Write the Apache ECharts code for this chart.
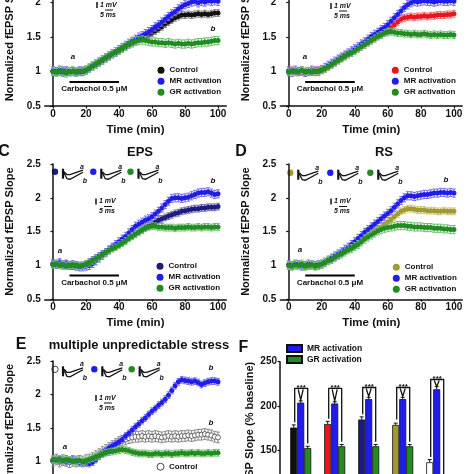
<!DOCTYPE html>
<html><head><meta charset="utf-8">
<script src="https://cdn.jsdelivr.net/npm/echarts@6/dist/echarts.min.js"></script>
<style>html,body{margin:0;padding:0;background:#fff}#c{width:474px;height:474px}</style>
</head><body><div id="c"></div>
<script>
// ---------- DATA ----------
const time = [0,2,4,6,8,10,12,14,16,18,20,22,24,26,28,30,32,34,36,38,40,42,44,46,48,50,52,54,56,58,60,62,64,66,68,70,72,74,76,78,80,82,84,86,88,90,92,94,96,98,100];
const xTicks = [0,20,40,60,80,100];
const seriesNames = ['Control','MR activation','GR activation'];

const A_ctl = [1.00,1.01,0.99,1.02,1.00,0.99,1.01,1.00,0.99,1.00, 1.02,1.05,1.08,1.10,1.13,1.16,1.19,1.22,1.25,1.27, 1.30,1.33,1.36,1.39,1.41,1.44,1.47,1.49,1.51,1.53, 1.56,1.59,1.62,1.65,1.69,1.72,1.75,1.78,1.80,1.82, 1.82,1.83,1.82,1.83,1.84,1.83,1.84,1.83,1.84,1.85,1.85];
const A_mr  = [1.01,1.00,1.02,0.99,1.01,1.00,1.00,0.99,1.01,1.00, 1.02,1.05,1.08,1.11,1.14,1.17,1.20,1.23,1.26,1.29, 1.32,1.35,1.38,1.41,1.44,1.47,1.50,1.52,1.55,1.58, 1.61,1.65,1.68,1.72,1.76,1.80,1.84,1.87,1.91,1.94, 1.97,1.99,2.01,2.02,2.00,2.02,2.01,2.03,2.02,2.03,2.02];
const A_gr  = [1.00,0.99,1.01,1.00,0.98,1.00,1.01,0.99,1.00,1.01, 1.02,1.05,1.08,1.11,1.14,1.17,1.20,1.23,1.26,1.29, 1.31,1.34,1.37,1.40,1.42,1.44,1.45,1.46,1.45,1.44, 1.43,1.43,1.42,1.42,1.41,1.42,1.41,1.40,1.41,1.40, 1.40,1.41,1.40,1.41,1.42,1.42,1.43,1.43,1.44,1.45,1.45];

const B_ctl = [1.00,1.02,0.99,1.01,1.00,0.98,1.01,1.00,1.02,0.99, 1.02,1.04,1.07,1.10,1.13,1.16,1.19,1.22,1.25,1.27, 1.30,1.33,1.36,1.39,1.42,1.45,1.48,1.51,1.54,1.57, 1.60,1.64,1.68,1.72,1.76,1.78,1.79,1.80,1.79,1.80, 1.80,1.81,1.80,1.81,1.81,1.82,1.82,1.82,1.83,1.83,1.84];
const B_mr  = [1.01,0.99,1.02,1.00,1.01,0.99,1.00,1.02,1.00,1.01, 1.03,1.06,1.09,1.12,1.15,1.18,1.21,1.24,1.27,1.30, 1.33,1.36,1.40,1.43,1.47,1.51,1.54,1.57,1.61,1.64, 1.68,1.73,1.78,1.83,1.88,1.93,1.97,2.00,2.02,2.01, 2.02,2.03,2.02,2.02,2.01,2.02,2.03,2.02,2.02,2.03,2.02];
const B_gr  = [0.99,1.01,1.00,0.99,1.02,1.00,1.01,0.99,1.00,1.01, 1.02,1.04,1.07,1.10,1.13,1.16,1.19,1.22,1.25,1.27, 1.30,1.33,1.36,1.39,1.42,1.45,1.48,1.51,1.53,1.56, 1.57,1.58,1.57,1.56,1.56,1.55,1.55,1.54,1.55,1.54, 1.54,1.55,1.54,1.53,1.54,1.53,1.54,1.53,1.53,1.54,1.53];

const C_ctl = [1.02,1.01,1.03,1.00,1.02,1.01,0.99,1.01,1.00,1.00, 1.02,1.05,1.08,1.11,1.14,1.17,1.20,1.23,1.26,1.29, 1.32,1.35,1.38,1.41,1.44,1.47,1.50,1.53,1.56,1.59, 1.61,1.64,1.67,1.69,1.71,1.73,1.75,1.77,1.78,1.80, 1.81,1.82,1.83,1.84,1.84,1.85,1.85,1.86,1.86,1.86,1.87];
const C_mr  = [1.03,1.02,1.04,1.01,1.02,1.00,1.01,0.99,0.98,0.98, 0.99,1.00,1.03,1.07,1.11,1.15,1.19,1.23,1.27,1.31, 1.35,1.39,1.43,1.48,1.53,1.58,1.61,1.64,1.67,1.69, 1.72,1.76,1.80,1.85,1.90,1.95,1.99,2.00,2.00,1.99, 2.00,2.01,2.03,2.05,2.07,2.08,2.08,2.09,2.07,2.05,2.06];
const C_gr  = [1.01,1.02,1.00,1.01,0.99,1.00,1.01,1.00,0.99,1.00, 1.02,1.04,1.07,1.10,1.13,1.16,1.19,1.22,1.25,1.27, 1.30,1.33,1.36,1.40,1.43,1.46,1.49,1.52,1.55,1.57, 1.58,1.58,1.57,1.57,1.56,1.56,1.56,1.55,1.56,1.56, 1.56,1.57,1.56,1.56,1.57,1.56,1.57,1.57,1.56,1.57,1.57];

const D_ctl = [1.00,1.01,0.99,1.02,1.00,1.01,0.99,1.00,1.01,1.00, 1.02,1.04,1.07,1.09,1.12,1.15,1.18,1.21,1.24,1.26, 1.29,1.32,1.36,1.40,1.44,1.48,1.51,1.54,1.57,1.61, 1.64,1.68,1.72,1.76,1.80,1.82,1.84,1.84,1.83,1.82, 1.82,1.82,1.81,1.81,1.81,1.80,1.80,1.81,1.80,1.80,1.80];
const D_mr  = [1.01,1.00,1.02,1.01,0.99,1.00,1.02,1.01,1.00,1.01, 1.02,1.05,1.08,1.11,1.14,1.17,1.20,1.24,1.27,1.31, 1.35,1.40,1.44,1.49,1.53,1.57,1.61,1.65,1.69,1.73, 1.77,1.81,1.86,1.91,1.96,2.00,2.03,2.03,2.02,2.03, 2.04,2.05,2.05,2.06,2.07,2.07,2.08,2.08,2.07,2.08,2.07];
const D_gr  = [1.00,0.99,1.01,1.00,1.02,0.99,1.00,1.01,0.99,1.00, 1.02,1.04,1.07,1.09,1.12,1.15,1.17,1.20,1.23,1.25, 1.28,1.31,1.35,1.39,1.42,1.45,1.48,1.51,1.53,1.55, 1.56,1.57,1.58,1.59,1.59,1.59,1.58,1.58,1.57,1.57, 1.57,1.56,1.56,1.56,1.55,1.55,1.55,1.54,1.54,1.53,1.53];

const E_ctl = [1.01,1.03,1.00,1.02,1.01,0.99,1.01,1.00,1.01,1.00, 1.02,1.03,1.05,1.08,1.11,1.14,1.17,1.20,1.23,1.26, 1.29,1.31,1.33,1.35,1.36,1.37,1.37,1.38,1.37,1.38, 1.37,1.38,1.37,1.36,1.37,1.38,1.37,1.38,1.37,1.38, 1.38,1.39,1.38,1.39,1.40,1.40,1.41,1.40,1.39,1.37,1.36];
const E_mr  = [1.02,1.03,1.01,1.02,1.00,1.01,1.02,1.00,0.99,0.98, 0.98,0.97,0.99,1.03,1.08,1.12,1.16,1.20,1.23,1.26, 1.29,1.33,1.38,1.42,1.47,1.52,1.56,1.61,1.65,1.70, 1.75,1.79,1.84,1.88,1.93,1.99,2.06,2.13,2.19,2.22, 2.21,2.20,2.19,2.20,2.18,2.15,2.17,2.19,2.20,2.20,2.19];
const E_gr  = [1.03,1.02,1.04,1.01,1.03,1.02,1.00,1.01,1.02,1.00, 1.01,1.03,1.05,1.07,1.09,1.11,1.13,1.14,1.15,1.16, 1.17,1.18,1.17,1.16,1.14,1.13,1.12,1.12,1.12,1.11, 1.11,1.12,1.12,1.11,1.12,1.12,1.11,1.12,1.12,1.13, 1.12,1.12,1.13,1.12,1.13,1.12,1.12,1.13,1.12,1.13,1.13];

// SEM estimates per series [control, MR, GR]
const semA = [0.05,0.06,0.06], semB = [0.05,0.06,0.05], semC = [0.05,0.06,0.05], semD = [0.05,0.06,0.06], semE = [0.08,0.05,0.05];

// carbachol application window (min) and bar level
const carbachol = [10, 40];
const carbacholLevel = 0.85;

// panel F bars (% baseline)
const fCats = ['Naive','Control','EPS','RS','MUS'];
const fCtl = [176,180,185,179,137];
const fMR  = [204,203,208,208,219];
const fGR  = [153,155,155,155,112];
const fCtlErr = [3,3,3,2,3];
const fMRErr  = [2,2,2,2,3];
const fGRErr  = [2,2,2,2,2];
const fSig = [220,220,221,221,230];

// ---------- STYLE ----------
const FONT = '"Liberation Sans", Arial, sans-serif';
const colCtl = {A:'#111111', B:'#e8141e', C:'#1c1c7e', D:'#a09a30', E:'#444444'};
const errCtl = {A:'#8a8a8a', B:'#f27070', C:'#6a6aa8', D:'#cbc578', E:'#8a8a8a'};
const colMR = '#1e1ee8', errMR = '#7a6ae6';
const colGR = '#228b22', errGR = '#6cc06c';

const grids = [
  {left:44.75, width:181.5, top:-31.7, height:137.7},
  {left:280.4, width:181.8, top:-31.7, height:137.7},
  {left:44.75, width:181.5, top:164, height:135.3},
  {left:280.4, width:181.8, top:164, height:135.3},
  {left:44.75, width:181.5, top:361, height:134},
  {left:283.7, width:170, top:361.7, height:133.5}
].map(g=>Object.assign({outerBoundsMode:'none', containLabel:false}, g));

const lblFont = {fontFamily:FONT, fontWeight:'bold', fontSize:10, color:'#111'};
function timeX(gi){
  return {type:'value', gridIndex:gi, min:-5, max:105,
    axisLine:{lineStyle:{color:'#111', width:1.5}},
    axisTick:{customValues:xTicks, length:2.5, lineStyle:{color:'#111', width:1.2}},
    axisLabel:Object.assign({customValues:xTicks, margin:3}, lblFont),
    splitLine:{show:false},
    name:'Time (min)', nameLocation:'middle', nameGap:18,
    nameTextStyle:{fontFamily:FONT, fontWeight:'bold', fontSize:11.5, color:'#111'}};
}
function normY(gi){
  return {type:'value', gridIndex:gi, min:0.5, max:2.5, interval:0.5,
    axisLine:{show:true, lineStyle:{color:'#111', width:1.5}},
    axisTick:{show:true, length:2.5, lineStyle:{color:'#111', width:1.2}},
    axisLabel:Object.assign({margin:4}, lblFont),
    splitLine:{show:false},
    name:'Normalized fEPSP Slope', nameLocation:'middle', nameGap:29,
    nameTextStyle:{fontFamily:FONT, fontWeight:'bold', fontSize:11, color:'#111'}};
}

function dotSeries(name, vals, sem, color, errColor, gi, hollow){
  return {
    type:'custom', name:name, coordinateSystem:'cartesian2d', xAxisIndex:gi, yAxisIndex:gi,
    itemStyle:{color: hollow ? '#ffffff' : color, borderColor: color},
    encode:{x:0, y:1},
    data: time.map((t,i)=>[t, vals[i], sem]),
    renderItem: function(params, api){
      const x = api.value(0), y = api.value(1), e = api.value(2);
      const p = api.coord([x,y]), hi = api.coord([x,y+e]), lo = api.coord([x,y-e]);
      const ls = {stroke:errColor, lineWidth:1};
      return {type:'group', children:[
        {type:'line', shape:{x1:p[0],y1:hi[1],x2:p[0],y2:lo[1]}, style:ls},
        {type:'line', shape:{x1:p[0]-1.8,y1:hi[1],x2:p[0]+1.8,y2:hi[1]}, style:ls},
        {type:'line', shape:{x1:p[0]-1.8,y1:lo[1],x2:p[0]+1.8,y2:lo[1]}, style:ls},
        {type:'circle', shape:{cx:p[0],cy:p[1],r:2.5},
          style: hollow ? {fill:'#fff', stroke:color, lineWidth:0.8} : {fill:color}}
      ]};
    }
  };
}
function carbSeries(gi){
  return {type:'line', xAxisIndex:gi, yAxisIndex:gi, silent:true, showSymbol:true, symbolSize:0,
    lineStyle:{color:'#000', width:2}, itemStyle:{color:'#000'},
    data:[[carbachol[0],carbacholLevel],
      {value:[(carbachol[0]+carbachol[1])/2, carbacholLevel],
       label:{show:true, position:'bottom', distance:3, formatter:'Carbachol 0.5 \u03bcM',
         fontFamily:FONT, fontWeight:'bold', fontSize:8, color:'#111'}},
      [carbachol[1],carbacholLevel]]};
}

const panels = [
  {k:'A', gi:0, d:[A_ctl,A_mr,A_gr], sem:semA},
  {k:'B', gi:1, d:[B_ctl,B_mr,B_gr], sem:semB},
  {k:'C', gi:2, d:[C_ctl,C_mr,C_gr], sem:semC},
  {k:'D', gi:3, d:[D_ctl,D_mr,D_gr], sem:semD},
  {k:'E', gi:4, d:[E_ctl,E_mr,E_gr], sem:semE}
];

const series = [];
panels.forEach(p=>{
  series.push(dotSeries('Control|'+p.k, p.d[0], p.sem[0], colCtl[p.k], errCtl[p.k], p.gi, p.k==='E'));
  series.push(dotSeries('MR activation|'+p.k, p.d[1], p.sem[1], colMR, errMR, p.gi, false));
  series.push(dotSeries('GR activation|'+p.k, p.d[2], p.sem[2], colGR, errGR, p.gi, false));
  if (p.k !== 'E') series.push(carbSeries(p.gi));
});

// Panel F bars
const barCols = ['#111111','#e8141e','#1c1c7e','#a09a30','#ffffff'];
series.push({type:'bar', name:'Control|F', xAxisIndex:5, yAxisIndex:5, barWidth:7, barGap:'0%',
  data: fCtl.map((v,i)=>({value:v, itemStyle:{color:barCols[i]}})),
  itemStyle:{borderColor:'#111', borderWidth:0.8}});
series.push({type:'bar', name:'MR activation|F', xAxisIndex:5, yAxisIndex:5, barWidth:7, barGap:'0%',
  data:fMR, itemStyle:{color:colMR, borderColor:'#111', borderWidth:0.8}});
series.push({type:'bar', name:'GR activation|F', xAxisIndex:5, yAxisIndex:5, barWidth:7, barGap:'0%',
  data:fGR, itemStyle:{color:colGR, borderColor:'#111', borderWidth:0.8}});
function barErr(vals, errs, off){
  return {type:'custom', xAxisIndex:5, yAxisIndex:5, silent:true, z:5,
    data: vals.map((v,i)=>[i, v, errs[i]]), encode:{x:0,y:1},
    renderItem:function(params, api){
      const i=api.value(0), v=api.value(1), e=api.value(2);
      const p=api.coord([i,v]), hi=api.coord([i,v+e]);
      const x=p[0]+off;
      const st={stroke:'#111', lineWidth:1};
      return {type:'group', children:[
        {type:'line', shape:{x1:x,y1:p[1],x2:x,y2:hi[1]}, style:st},
        {type:'line', shape:{x1:x-2,y1:hi[1],x2:x+2,y2:hi[1]}, style:st}]};
    }};
}
series.push(barErr(fCtl, fCtlErr, -7), barErr(fMR, fMRErr, 0), barErr(fGR, fGRErr, 7));
series.push({type:'custom', xAxisIndex:5, yAxisIndex:5, silent:true, z:6,
  data: fCtl.map((v,i)=>[i, fSig[i], v, fMR[i], fGR[i]]), encode:{x:0,y:1},
  renderItem:function(params, api){
    const i=api.value(0), top=api.coord([i, api.value(1)]);
    const c=api.coord([i, api.value(2)+6]), m=api.coord([i, api.value(3)+3]), g=api.coord([i, api.value(4)+5]);
    const xc=top[0]-6, xm=top[0], xg=top[0]+7;
    const st={stroke:'#111', lineWidth:1.3};
    return {type:'group', children:[
      {type:'polyline', shape:{points:[[xc,c[1]],[xc,top[1]],[xg,top[1]],[xg,g[1]]]}, style:Object.assign({fill:null},st)},
      {type:'polyline', shape:{points:[[xm-2.5,top[1]+1],[xm,m[1]],[xm+2.5,top[1]+1]]}, style:Object.assign({fill:null},st)},
      {type:'text', x:xm+0.5, y:top[1]+3, style:{text:'***', textAlign:'center', textVerticalAlign:'bottom',
        font:'bold 8px '+FONT, fill:'#111'}}
    ]};
  }});

// ---------- LEGENDS ----------
function legend(k, left, top, names){
  return {left:left, top:top, orient:'vertical', selectedMode:false, icon:'circle',
    itemWidth:7, itemHeight:7, itemGap:0.5, padding:0,
    formatter:n=>n.split('|')[0],
    textStyle:{fontFamily:FONT, fontWeight:'bold', fontSize:8, color:'#111', lineHeight:10.5},
    data: (names||seriesNames).map(n=> (k==='E' && n==='Control') ?
      {name:n+'|'+k, itemStyle:{color:'#fff', borderColor:'#444', borderWidth:1}} : n+'|'+k)};
}
const legends = [legend('A',157.5,65), legend('B',391.8,65), legend('C',156.5,261), legend('D',392.8,262),
  legend('E',156.5,461.5,['Control']),
  {left:286, top:343, orient:'vertical', selectedMode:false, icon:'rect', itemWidth:15, itemHeight:7, itemGap:0, padding:0,
   formatter:n=>n.split('|')[0],
   textStyle:{fontFamily:FONT, fontWeight:'bold', fontSize:8.5, color:'#111', lineHeight:11},
   data:['MR activation|F','GR activation|F']}];

// ---------- ANNOTATIONS ----------
const G = [];
function txt(x,y,t,font,align){ G.push({type:'text', x:x, y:y, silent:true,
  style:{text:t, font:font, fill:'#111', textAlign:align||'center', textVerticalAlign:'middle'}}); }
function ln(pts,w){ G.push({type:'polyline', silent:true, shape:{points:pts}, style:{stroke:'#111', lineWidth:w||1.2, fill:null}}); }
const letterFont = 'bold 16px '+FONT, titleFont='bold 13px '+FONT, abFont='italic bold 8px '+FONT, smallItal='italic bold 7px '+FONT;
txt(4,152,'C',letterFont); txt(241,152,'D',letterFont); txt(21,345,'E',letterFont); txt(243.5,348,'F',letterFont);
txt(140,152,'EPS',titleFont); txt(384,152,'RS',titleFont); txt(139,345,'multiple unpredictable stress',titleFont);
// a / b markers
[[73,57,'a'],[213,29,'b'],[305,57,'a'],[60,251,'a'],[213,181,'b'],[300,250,'a'],[446,180,'b'],[65,447,'a'],[211,368,'b'],[211,423,'b']]
  .forEach(a=>txt(a[0],a[1],a[2],abFont));
// scale bars
function scaleBar(x,y){
  ln([[x+1,y-3],[x+1,y+3]],1.5);
  txt(x+4,y,'1 mV',smallItal,'left');
  ln([[x+9,y+5],[x+17,y+5]],1);
  txt(x+4,y+10,'5 ms',smallItal,'left');
}
scaleBar(96,5); scaleBar(330,6); scaleBar(95,201.5); scaleBar(330,201.5); scaleBar(95,398);
// inset traces
function trace(x,y,col,hollow){
  G.push({type:'circle', silent:true, shape:{cx:x,cy:y,r:3.2}, style: hollow?{fill:'#fff',stroke:'#444',lineWidth:1}:{fill:col}});
  ln([[x+8,y-3],[x+8,y+7]],2.2);
  ln([[x+9,y],[x+12,y+3],[x+15,y+3],[x+28,y-1.5]],1.3);
  ln([[x+9,y+1],[x+12,y+7],[x+15,y+7.5],[x+28,y+0.5]],1.3);
  txt(x+27,y-5,'a',smallItal); txt(x+30,y+9,'b',smallItal);
}
trace(55,171.7,colCtl.C); trace(93.3,171.7,colMR); trace(130.5,171.7,colGR);
trace(290.3,172.7,colCtl.D); trace(330.3,172.7,colMR); trace(370.3,172.7,colGR);
trace(55,369.3,null,true); trace(94.3,369.3,colMR); trace(131.7,369.3,colGR);

// ---------- OPTION ----------
const xAxes = [0,1,2,3,4].map(timeX);
xAxes.push({type:'category', gridIndex:5, data:fCats, axisLine:{lineStyle:{color:'#111',width:1.5}}, axisTick:{show:false},
  axisLabel:lblFont});
const yAxes = [0,1,2,3,4].map(normY);
yAxes.push({type:'value', gridIndex:5, min:100, max:250, interval:50, offset:3.7,
  axisLine:{show:true, lineStyle:{color:'#111', width:1.5}},
  axisTick:{show:true, length:2.5, lineStyle:{color:'#111', width:1.2}},
  axisLabel:Object.assign({margin:3}, lblFont), splitLine:{show:false},
  name:'fEPSP Slope (% baseline)', nameLocation:'middle', nameGap:25,
  nameTextStyle:{fontFamily:FONT, fontWeight:'bold', fontSize:11, color:'#111'}});

const chart = echarts.init(document.getElementById('c'), null, {renderer:'canvas'});
chart.setOption({
  animation:false, backgroundColor:'#fff',
  grid:grids, xAxis:xAxes, yAxis:yAxes, legend:legends, series:series, graphic:G
});
</script></body></html>
